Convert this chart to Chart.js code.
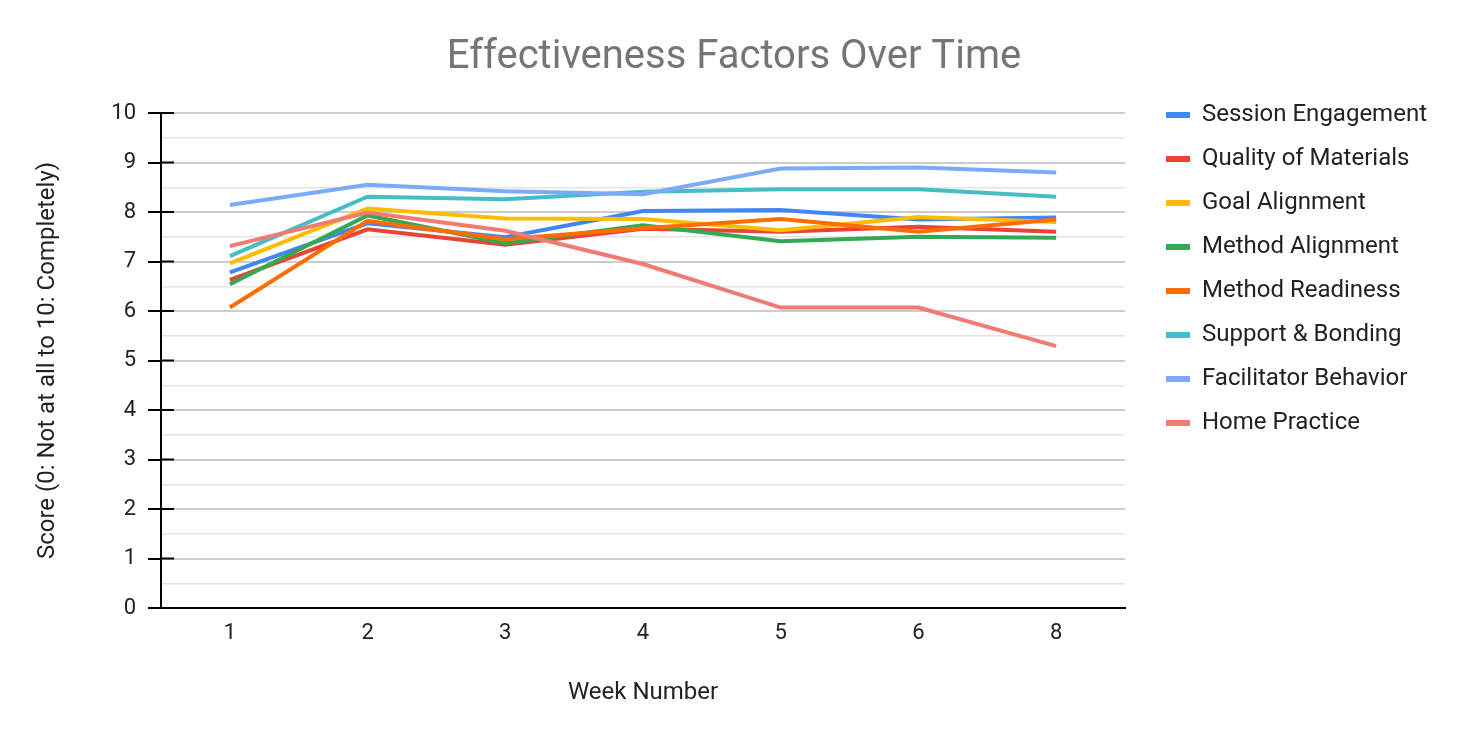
<!DOCTYPE html>
<html lang="en">
<head>
  <meta charset="UTF-8">
  <title>Effectiveness Factors Over Time</title>
  <style>
    body, html {
      margin: 0;
      padding: 0;
      background-color: #ffffff;
    }

    #chart-container {
      width: 1468px;
      height: 742px;
    }
  </style>
</head>
<body>
  <div id="chart-container">
    <canvas id="factorsChart"></canvas>
  </div>

  <script src="https://cdn.jsdelivr.net/npm/chart.js"></script>
  <script>
    const weeks = ['1', '2', '3', '4', '5', '6', '8'];

    const sessionEngagement   = [6.78, 7.77, 7.49, 8.02, 8.04, 7.85, 7.89];
    const qualityOfMaterials  = [6.63, 7.65, 7.34, 7.66, 7.60, 7.70, 7.60];
    const goalAlignment       = [6.96, 8.07, 7.87, 7.86, 7.63, 7.90, 7.80];
    const methodAlignment     = [6.54, 7.93, 7.37, 7.73, 7.41, 7.50, 7.48];
    const methodReadiness     = [6.07, 7.82, 7.45, 7.67, 7.86, 7.60, 7.85];
    const supportBonding      = [7.11, 8.31, 8.26, 8.41, 8.46, 8.46, 8.31];
    const facilitatorBehavior = [8.14, 8.55, 8.42, 8.36, 8.88, 8.90, 8.80];
    const homePractice        = [7.31, 7.99, 7.62, 6.95, 6.07, 6.07, 5.29];

    const seriesNames = [
      'Session Engagement', 'Quality of Materials', 'Goal Alignment', 'Method Alignment',
      'Method Readiness', 'Support & Bonding', 'Facilitator Behavior', 'Home Practice'
    ];
    const seriesValues = [
      sessionEngagement, qualityOfMaterials, goalAlignment, methodAlignment,
      methodReadiness, supportBonding, facilitatorBehavior, homePractice
    ];
    const seriesColors = [
      '#4285f4', '#ea4335', '#fbbc04', '#34a853',
      '#ff6d01', '#46bdc6', '#7baaf7', '#f07b72'
    ];

    Chart.defaults.font.family = 'Roboto, "Noto Sans", sans-serif';
    Chart.defaults.color = '#222222';

    // black tick stubs poking into the plot area, like the sheets export
    const innerTicks = {
      id: 'innerTicks',
      beforeDatasetsDraw(chart) {
        const { ctx, chartArea, scales } = chart;
        ctx.save();
        ctx.strokeStyle = '#000000';
        ctx.lineWidth = 2;
        scales.y.ticks.forEach(t => {
          if (t.value % 1 !== 0) return;
          const y = scales.y.getPixelForValue(t.value);
          ctx.beginPath();
          ctx.moveTo(chartArea.left, y);
          ctx.lineTo(chartArea.left + 13, y);
          ctx.stroke();
        });
        ctx.restore();
      }
    };

    // make the legend box a fixed width so the title stays centred on the page
    const legendWidth = {
      id: 'legendWidth',
      beforeInit(chart) {
        const fit = chart.legend.fit;
        chart.legend.fit = function () {
          fit.call(this);
          this.width = 322;
        };
      }
    };

    const ctx = document.getElementById('factorsChart').getContext('2d');
    const factorsChart = new Chart(ctx, {
      type: 'line',
      data: {
        labels: weeks,
        datasets: seriesNames.map((name, i) => ({
          label: name,
          data: seriesValues[i],
          borderColor: seriesColors[i],
          backgroundColor: seriesColors[i],
          borderWidth: 4,
          pointRadius: 0,
          pointHoverRadius: 0,
          tension: 0,
          fill: false,
          order: seriesNames.length - i
        }))
      },
      options: {
        responsive: true,
        maintainAspectRatio: false,
        animation: false,
        layout: { padding: 0 },
        scales: {
          x: {
            offset: true,
            grid: { display: false, drawTicks: false },
            border: { display: true, color: '#000000', width: 2 },
            ticks: { color: '#222222', font: { size: 22 }, padding: 12 },
            title: {
              display: true,
              text: 'Week Number',
              color: '#222222',
              font: { size: 24 },
              padding: { top: 0, bottom: 35 }
            },
            afterFit(scale) { scale.height = 134; }
          },
          y: {
            min: 0,
            max: 10,
            grid: {
              color: c => (c.tick && c.tick.value % 1 === 0) ? '#cccccc' : '#e4e4e4',
              lineWidth: c => (c.tick && c.tick.value % 1 === 0) ? 2 : 1.5,
              tickColor: c => (c.tick && c.tick.value % 1 === 0) ? '#000000' : 'rgba(0,0,0,0)',
              tickWidth: 2,
              tickLength: 13
            },
            border: { display: true, color: '#000000', width: 2 },
            ticks: {
              stepSize: 0.5,
              autoSkip: false,
              color: '#222222',
              font: { size: 22 },
              padding: 12,
              callback: v => (v % 1 === 0 ? v : '')
            },
            title: {
              display: true,
              text: 'Score (0: Not at all to 10: Completely)',
              color: '#222222',
              font: { size: 24 },
              padding: { top: 34, bottom: 0 }
            },
            afterFit(scale) { scale.width = 161; }
          },
          gap: {
            type: 'linear',
            position: 'right',
            display: true,
            grid: { display: false },
            border: { display: false },
            ticks: { display: false },
            afterFit(scale) { scale.width = 21; }
          }
        },
        plugins: {
          title: {
            display: true,
            text: 'Effectiveness Factors Over Time',
            color: '#757575',
            font: { size: 40, weight: 'normal' },
            padding: { top: 34, bottom: 31 }
          },
          legend: {
            position: 'right',
            align: 'start',
            title: {
              display: true,
              text: '',
              font: { size: 1, lineHeight: 1 },
              padding: { top: 82, bottom: 0 }
            },
            labels: {
              boxWidth: 24,
              boxHeight: 6,
              padding: 20,
              color: '#222222',
              font: { size: 24 },
              sort: (a, b) => a.datasetIndex - b.datasetIndex,
              generateLabels(chart) {
                const items = Chart.defaults.plugins.legend.labels.generateLabels(chart);
                items.forEach(it => { it.lineWidth = 0; });
                return items;
              }
            }
          },
          tooltip: { enabled: false }
        }
      },
      plugins: [innerTicks, legendWidth]
    });
  </script>
</body>
</html>
